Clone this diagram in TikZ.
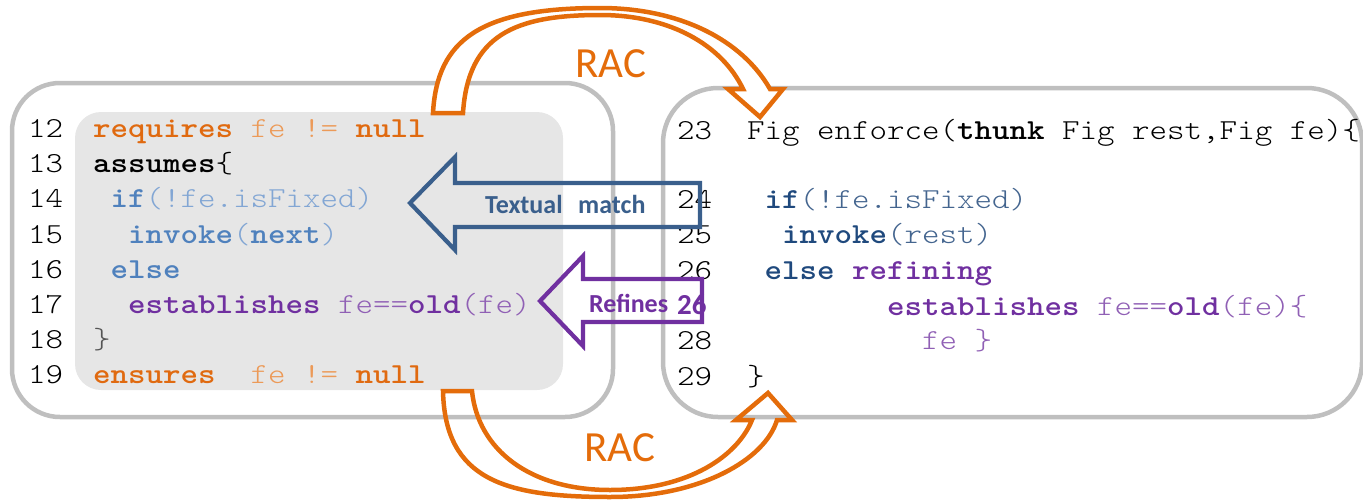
\documentclass[tikz,border=0pt]{standalone}
\usepackage{fontspec}
\setmainfont{Carlito}
\newfontfamily\codefont{lmmonolt10-regular.otf}[BoldFont=lmmonolt10-bold.otf, FakeStretch=1.15]

\definecolor{panelgray}{HTML}{BFBFBF}
\definecolor{shadegray}{HTML}{E6E6E6}
\definecolor{racorange}{HTML}{E46C0A}
\definecolor{kworange}{HTML}{E06A10}
\definecolor{regorange}{HTML}{EC9A58}
\definecolor{lblue}{HTML}{4F81BD}
\definecolor{lbluereg}{HTML}{82A6D4}
\definecolor{dblue}{HTML}{1F497D}
\definecolor{dbluereg}{HTML}{44658F}
\definecolor{matchblue}{HTML}{3A5F8C}
\definecolor{kwpurple}{HTML}{7030A0}
\definecolor{regpurple}{HTML}{9060B5}
\definecolor{bracegray}{HTML}{555555}

% keyword / plain-text helpers for the code listings
\newcommand\kwd[2]{\textcolor{#1}{\textbf{#2}}}
\newcommand\txt[2]{\textcolor{#1}{#2}}

\begin{document}
\begin{tikzpicture}[x=1pt,y=-1pt,
  panel/.style={draw=panelgray, line width=4.5pt},
  codeline/.style={anchor=base west, inner sep=0pt, outer sep=0pt,
    font=\codefont\fontsize{29}{30}\selectfont},
  lineno/.style={codeline, text=black},
  rac/.style={anchor=base, inner sep=0pt, text=racorange,
    font=\fontsize{43}{45}\selectfont},
  racarrow/.style={draw=racorange, line width=4.5pt, line join=miter},
  blockarrow/.style={line width=4.2pt, line join=miter},
  arrowlabel/.style={anchor=base west, inner sep=0pt,
    font=\bfseries\fontsize{26}{28}\selectfont},
]
\useasboundingbox (0,0) rectangle (1363,501);

% ---- the two listing panels ----
\draw[panel, rounded corners=48] (12,83) rectangle (613,417);
\draw[panel, rounded corners=55] (663,88) rectangle (1362,417);
\fill[shadegray, rounded corners=26] (75,112) rectangle (563,390);

% ---- left listing: the contract ----
\node[lineno] (l12) at (28,137) {12};
\node[lineno] (l13) at (28,172) {13};
\node[lineno] (l14) at (28,207) {14};
\node[lineno] (l15) at (28,243) {15};
\node[lineno] (l16) at (28,278) {16};
\node[lineno] (l17) at (28,313) {17};
\node[lineno] (l18) at (28,348) {18};
\node[lineno] (l19) at (28,383) {19};

\node[codeline] (c12) at (93,137) {\kwd{kworange}{requires}\txt{regorange}{\ fe\ !=\ }\kwd{kworange}{null}};
\node[codeline] (c13) at (93,172) {\kwd{black}{assumes}\{};
\node[codeline] (c14) at (93,207) {\ \kwd{lblue}{if}\txt{lbluereg}{(!fe.isFixed)}};
\node[codeline] (c15) at (93,243) {\ \ \kwd{lblue}{invoke}\txt{lbluereg}{(}\kwd{lblue}{next}\txt{lbluereg}{)}};
\node[codeline] (c16) at (93,278) {\ \kwd{lblue}{else}};
\node[codeline] (c17) at (93,313) {\ \ \kwd{kwpurple}{establishes}\txt{regpurple}{\ fe==}\kwd{kwpurple}{old}\txt{regpurple}{(fe)}};
\node[codeline] (c18) at (93,348) {\txt{bracegray}{\}}};
\node[codeline] (c19) at (93,383) {\kwd{kworange}{ensures}\txt{regorange}{\ \ fe\ !=\ }\kwd{kworange}{null}};

% ---- right listing: the implementation ----
\node[lineno] (r23) at (677,139) {23};
\node[lineno] (r24) at (677,208) {24};
\node[lineno] (r25) at (677,243) {25};
\node[lineno] (r26) at (677,279) {26};
\node[anchor=base west, inner sep=0pt, text=kwpurple,
  font=\bfseries\fontsize{29}{30}\selectfont] (r27) at (677,314) {26};
\node[lineno] (r28) at (677,349) {28};
\node[lineno] (r29) at (677,385) {29};

\node[codeline] (d23) at (747,139) {Fig\ enforce(\textbf{thunk}\ Fig\ rest,Fig\ fe)\{};
\node[codeline] (d24) at (747,208) {\ \kwd{dblue}{if}\txt{dbluereg}{(!fe.isFixed)}};
\node[codeline] (d25) at (747,243) {\ \ \kwd{dblue}{invoke}\txt{dbluereg}{(rest)}};
\node[codeline] (d26) at (747,279) {\ \kwd{dblue}{else}\ \kwd{kwpurple}{refining}};
\node[codeline] (d27) at (747,315) {\ \ \ \ \ \ \ \ \kwd{kwpurple}{establishes}\txt{regpurple}{\ fe==}\kwd{kwpurple}{old}\txt{regpurple}{(fe)\{}};
\node[codeline] (d28) at (747,349) {\ \ \ \ \ \ \ \ \ \ \txt{regpurple}{fe\ \}}};
\node[codeline] (d29) at (747,385) {\}};

% ---- RAC arrow over the top (filled white) ----
\coordinate (topTip) at (760,117);
\filldraw[racarrow, fill=white]
  (433,113) .. controls (437,40) and (480,8) .. (600,8)
  .. controls (680,8) and (742,40) .. (770,89)
  -- (783,89) -- (topTip) -- (728,89) -- (743,89)
  .. controls (722,45) and (670,15) .. (600,15)
  .. controls (515,15) and (468,35) .. (463,113) -- cycle;
\node[rac] (racTop) at (611,77) {RAC};

% ---- RAC arrow underneath (outline only) ----
\coordinate (botTip) at (768,393);
\draw[racarrow]
  (443,391) .. controls (445,480) and (505,497) .. (610,497)
  .. controls (700,497) and (765,460) .. (777,420)
  -- (792,420) -- (botTip) -- (736,420) -- (752,420)
  .. controls (738,455) and (690,490) .. (610,490)
  .. controls (530,490) and (478,450) .. (472,391) -- cycle;
\node[rac] (racBot) at (620,461) {RAC};

% ---- "Textual match" block arrow ----
\coordinate (matchTip) at (410,203);
\draw[blockarrow, draw=matchblue]
  (matchTip) -- (455,157) -- (455,183) -- (700,183) -- (700,227)
  -- (455,227) -- (455,250) -- cycle;
\node[arrowlabel, text=matchblue] (matchA) at (485,213) {Textual};
\node[arrowlabel, text=matchblue] (matchB) at (578,213) {match};

% ---- "Refines" block arrow ----
\coordinate (refTip) at (540,301);
\draw[blockarrow, draw=kwpurple]
  (refTip) -- (583,256) -- (583,279) -- (702,279) -- (702,322)
  -- (583,322) -- (583,346) -- cycle;
\node[arrowlabel, text=kwpurple] (refines) at (589,312) {Refines};
\end{tikzpicture}
\end{document}
